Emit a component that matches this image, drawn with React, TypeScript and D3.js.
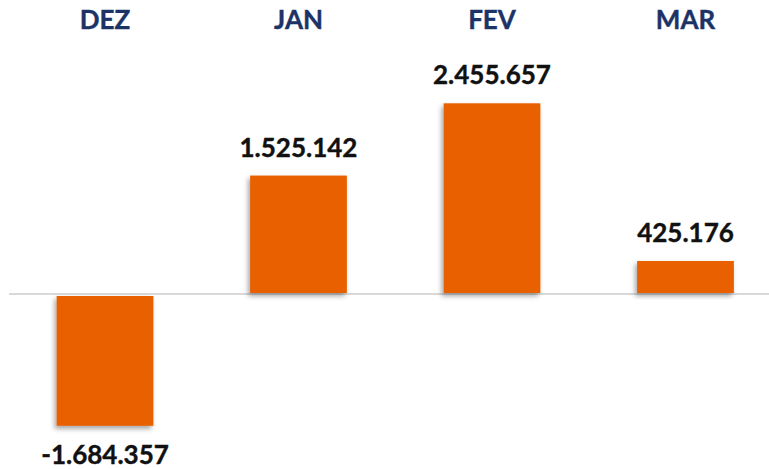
import React from "react";
import * as d3 from "d3";

const categories = ["DEZ", "JAN", "FEV", "MAR"];
const values = [-1684357, 1525142, 2455657, 425176];
const valueLabels = ["-1.684.357", "1.525.142", "2.455.657", "425.176"];

const W = 769;
const H = 469;
const zeroY = 294;

export default function App() {
  const x = d3
    .scaleBand<string>()
    .domain(categories)
    .range([8.25, 782.25])
    .paddingInner(0.5)
    .paddingOuter(0.25);
  const y = d3.scaleLinear().domain([0, 2455657]).range([zeroY, 103.3]);
  const font = "Lato, 'Open Sans', sans-serif";
  return (
    <svg
      width={W}
      height={H}
      style={{ position: "absolute", left: 0, top: 0, background: "#fff" }}
    >
      <defs>
        <filter id="sh" x="-20%" y="-20%" width="140%" height="140%">
          <feDropShadow dx={-2} dy={3} stdDeviation={2.5} floodColor="#000" floodOpacity={0.35} />
        </filter>
      </defs>
      <line x1={9} x2={769} y1={zeroY} y2={zeroY} stroke="#d9d9d9" strokeWidth={2} />
      {categories.map((c, i) => {
        const v = values[i];
        const x0 = x(c)!;
        const bw = x.bandwidth();
        const top = Math.min(y(v), y(0));
        const h = Math.abs(y(v) - y(0));
        const cx = x0 + bw / 2;
        return (
          <g key={c}>
            <rect
              x={x0}
              y={v >= 0 ? top : top + 2}
              width={bw}
              height={h - 1}
              fill="#E86000"
              filter="url(#sh)"
            />
            <text
              x={cx}
              y={29}
              textAnchor="middle"
              fontFamily={font}
              fontWeight={700}
              fontSize={26}
              fill="#1B3366"
              stroke="#1B3366"
              strokeWidth={0.4}
            >
              {c}
            </text>
            <text
              x={cx}
              y={v >= 0 ? y(v) - 19 : y(v) + 39}
              textAnchor="middle"
              fontFamily={font}
              fontWeight={700}
              fontSize={26}
              fill="#111"
              stroke="#111"
              strokeWidth={0.4}
            >
              {valueLabels[i]}
            </text>
          </g>
        );
      })}
    </svg>
  );
}
